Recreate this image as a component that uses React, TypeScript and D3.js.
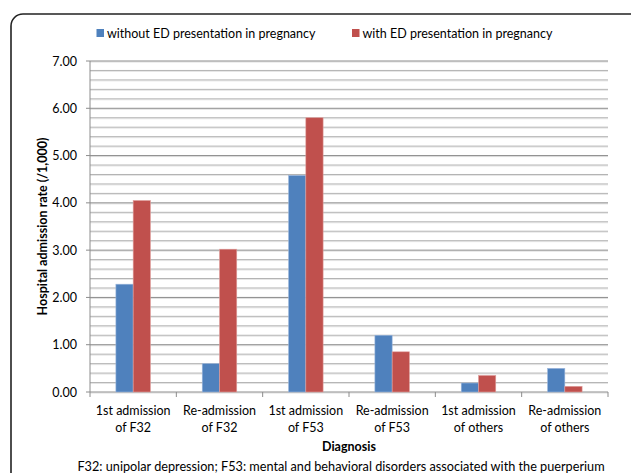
import React from "react";
import * as d3 from "d3";

const categories = [
  ["1st admission", "of F32"],
  ["Re-admission", "of F32"],
  ["1st admission", "of F53"],
  ["Re-admission", "of F53"],
  ["1st admission", "of others"],
  ["Re-admission", "of others"],
];
const withoutED = [2.28, 0.6, 4.58, 1.2, 0.19, 0.5];
const withED = [4.05, 3.02, 5.8, 0.85, 0.35, 0.12];
const seriesNames = ["without ED presentation in pregnancy", "with ED presentation in pregnancy"];
const colors = ["#4F81BD", "#C0504D"];
const majorTicks = [0, 1, 2, 3, 4, 5, 6, 7];

const W = 631;
const H = 473;
const FONT = "Lato, 'Liberation Sans', sans-serif";

export default function App() {
  const left = 90, right = 608, top = 61, bottom = 392;
  const y = d3.scaleLinear().domain([0, 7]).range([bottom, top]);
  const x = d3.scaleBand<number>().domain(d3.range(categories.length)).range([left, right]).paddingInner(0.6).paddingOuter(0.3);
  const xOuter = d3.scaleBand<number>().domain(d3.range(categories.length)).range([left, right]);
  const minor = d3.range(0, 7.0001, 0.2).filter((v) => Math.abs(v - Math.round(v)) > 1e-6);
  const series = [withoutED, withED];
  const bw = x.bandwidth() / 2;

  return (
    <svg width={W} height={H} style={{ position: "absolute", left: 0, top: 0, background: "#fff" }} fontFamily={FONT}>
      <rect x={11} y={14} width={640} height={500} rx={12} fill="#fff" stroke="#222" strokeWidth={1.6} />
      {/* legend */}
      {seriesNames.map((n, i) => {
        const lx = i === 0 ? 96.5 : 352;
        return (
          <g key={n}>
            <rect x={lx} y={29} width={7.5} height={8} fill={colors[i]} />
            <text x={lx + 10.5} y={37.5} fontSize={12.5} fill="#000">{n}</text>
          </g>
        );
      })}
      {/* gridlines */}
      {minor.map((v) => (
        <g key={"m" + v}>
          <line x1={left} x2={right} y1={y(v) + 1} y2={y(v) + 1} stroke="#e6e6e6" />
          <line x1={left} x2={right} y1={y(v)} y2={y(v)} stroke="#b4b4b4" />
        </g>
      ))}
      {majorTicks.map((v) => (
        <g key={"M" + v}>
          <line x1={left} x2={right} y1={y(v) + 1} y2={y(v) + 1} stroke="#e0e0e0" />
          <line x1={left - 4} x2={right} y1={y(v)} y2={y(v)} stroke="#8c8c8c" />
          <text x={77} y={y(v) + 4.5} fontSize={12.5} textAnchor="end" fill="#000">{v.toFixed(2)}</text>
        </g>
      ))}
      <line x1={left} x2={left} y1={top} y2={bottom} stroke="#8c8c8c" />
      {d3.range(categories.length + 1).map((i) => {
        const xx = i === categories.length ? right : (xOuter(i) as number);
        return <line key={"t" + i} x1={xx} x2={xx} y1={bottom} y2={bottom + 5} stroke="#8c8c8c" />;
      })}
      {/* bars */}
      {series.map((s, si) =>
        s.map((v, i) => (
          <rect
            key={si + "-" + i}
            x={(x(i) as number) + si * bw}
            y={y(v)}
            width={bw}
            height={bottom - y(v)}
            fill={colors[si]}
            stroke={si === 0 ? "#9db7dc" : "#e0a09e"}
            strokeWidth={0.6}
          />
        ))
      )}
      {/* category labels */}
      {categories.map((c, i) => {
        const cx = (xOuter(i) as number) + xOuter.bandwidth() / 2;
        return (
          <text key={"c" + i} x={cx} textAnchor="middle" fontSize={12.5} fill="#000">
            <tspan x={cx} y={415}>{c[0]}</tspan>
            <tspan x={cx} y={432}>{c[1]}</tspan>
          </text>
        );
      })}
      <text x={349} y={451} textAnchor="middle" fontSize={12.5} fontWeight="bold">Diagnosis</text>
      <text transform={`translate(47,${(top + bottom) / 2}) rotate(-90)`} textAnchor="middle" fontSize={12.5} fontWeight="bold">
        Hospital admission rate (/1,000)
      </text>
      <text x={341} y={471} textAnchor="middle" fontSize={12.7} fill="#000">
        F32: unipolar depression; F53: mental and behavioral disorders associated with the puerperium
      </text>
    </svg>
  );
}
